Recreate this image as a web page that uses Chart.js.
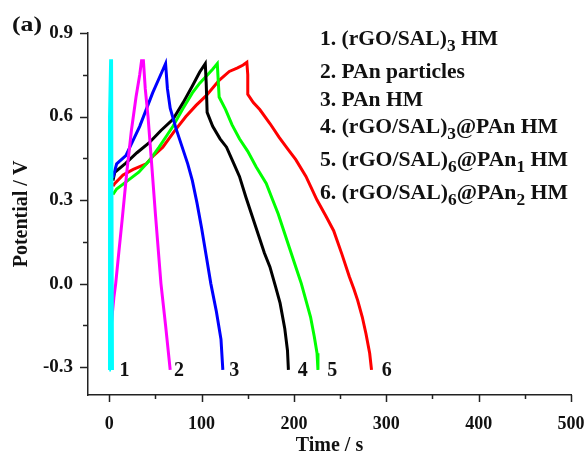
<!DOCTYPE html>
<html>
<head>
<meta charset="utf-8">
<script src="https://cdn.jsdelivr.net/npm/chart.js@4.4.1/dist/chart.umd.min.js"></script>
<style>
  html, body { margin: 0; padding: 0; background: #fff; }
</style>
</head>
<body>
<canvas id="gcd" width="586" height="460"></canvas>
<script>
// charge/discharge curves, time (s) and potential (V)
const t1 = [0, 0.3, 1.5, 2.5, 3.5];
const v1 = [-0.31, 0.6, 0.8, 0.8, -0.31];

const t2 = [1, 1, 3, 5, 7, 10, 14, 19, 24, 29, 33, 35, 37, 39, 42, 45, 50, 56, 61, 66];
const v2 = [-0.31, -0.2, -0.12, -0.05, 0.0, 0.1, 0.23, 0.4, 0.55, 0.67, 0.75, 0.8, 0.8, 0.7, 0.6, 0.47, 0.25, 0.0, -0.15, -0.31];

const t3 = [4, 8, 18, 33, 47, 57, 61, 63, 66, 72, 78, 85, 90, 95, 100, 105, 110, 116, 121, 123];
const v3 = [0.38, 0.43, 0.46, 0.565, 0.685, 0.76, 0.79, 0.7, 0.63, 0.56, 0.5, 0.43, 0.37, 0.29, 0.2, 0.1, 0.0, -0.1, -0.2, -0.31];

const t4 = [4, 6, 18, 30, 43, 56, 69, 80, 90, 98, 104, 105, 106, 112, 120, 127, 135, 141, 148, 155, 162, 168, 174, 180, 185, 190, 193, 194];
const v4 = [0.37, 0.4, 0.433, 0.47, 0.505, 0.55, 0.59, 0.65, 0.71, 0.76, 0.79, 0.72, 0.615, 0.565, 0.52, 0.49, 0.43, 0.385, 0.31, 0.24, 0.17, 0.11, 0.06, -0.01, -0.07, -0.16, -0.24, -0.31];

const t5 = [4, 8, 20, 32, 43, 54, 62, 69, 80, 90, 98, 105, 112, 117, 118, 119, 126, 133, 141, 150, 159, 170, 177, 183, 188, 195, 202, 208, 213, 218, 222, 225, 226];
const v5 = [0.32, 0.34, 0.37, 0.4, 0.44, 0.49, 0.53, 0.565, 0.63, 0.685, 0.72, 0.745, 0.77, 0.79, 0.73, 0.67, 0.625, 0.57, 0.52, 0.475, 0.42, 0.36, 0.3, 0.25, 0.2, 0.13, 0.06, 0.0, -0.06, -0.12, -0.19, -0.25, -0.31];

const t6 = [4, 6, 15, 26, 33, 40, 48, 58, 70, 83, 94, 105, 119, 130, 139, 145, 149, 150, 150, 156, 163, 174, 184, 194, 202, 213, 225, 235, 243, 252, 260, 265, 269, 274, 278, 282, 284];
const v6 = [0.35, 0.36, 0.39, 0.41, 0.42, 0.43, 0.46, 0.49, 0.545, 0.6, 0.64, 0.675, 0.73, 0.762, 0.775, 0.785, 0.795, 0.75, 0.68, 0.65, 0.625, 0.575, 0.525, 0.48, 0.445, 0.385, 0.3, 0.24, 0.19, 0.105, 0.025, -0.02, -0.06, -0.12, -0.18, -0.25, -0.31];

const times = [t1, t2, t3, t4, t5, t6];
const pots = [v1, v2, v3, v4, v5, v6];
const seriesColors = ['#00ffff', '#ff00ff', '#0000ff', '#000000', '#00ff00', '#ff0000'];
const curveNums = ['1', '2', '3', '4', '5', '6'];
const numX = [11, 70, 130, 204, 236, 295];   // where the curve numbers sit (s)
const numY = -0.3;

// legend lines: [text, isSubscript]
const legendLines = [
  [['1. (rGO/SAL)', 0], ['3', 1], [' HM', 0]],
  [['2. PAn particles', 0]],
  [['3. PAn HM', 0]],
  [['4. (rGO/SAL)', 0], ['3', 1], ['@PAn HM', 0]],
  [['5. (rGO/SAL)', 0], ['6', 1], ['@PAn', 0], ['1', 1], [' HM', 0]],
  [['6. (rGO/SAL)', 0], ['6', 1], ['@PAn', 0], ['2', 1], [' HM', 0]]
];

const xTicks = [0, 50, 100, 150, 200, 250, 300, 350, 400, 450, 500];
const yTicks = [-0.3, -0.15, 0, 0.15, 0.3, 0.45, 0.6, 0.75, 0.9];

const SERIF = "'Liberation Serif', 'Times New Roman', serif";

function isMajorX(v) { return v % 100 === 0; }
function isMajorY(v) { return Math.abs(v / 0.3 - Math.round(v / 0.3)) < 1e-6; }

// draws text parts stretched to a given width (the original type is wide)
function drawStretched(c, parts, x, y, width, size) {
  let natural = 0;
  parts.forEach(([txt, sub]) => {
    c.font = 'bold ' + (sub ? size - 4 : size) + 'px ' + SERIF;
    natural += c.measureText(txt).width;
  });
  const k = width / natural;
  c.save();
  c.translate(x, y);
  c.scale(k, 1);
  let cx = 0;
  parts.forEach(([txt, sub]) => {
    c.font = 'bold ' + (sub ? size - 4 : size) + 'px ' + SERIF;
    c.fillText(txt, cx, sub ? 6 : 0);
    cx += c.measureText(txt).width;
  });
  c.restore();
}

const extras = {
  id: 'extras',
  afterDraw(chart) {
    const c = chart.ctx;
    const xs = chart.scales.x, ys = chart.scales.y;
    const area = chart.chartArea;
    c.save();
    // tick marks, pointing out
    c.strokeStyle = '#222';
    c.lineWidth = 1.5;
    xTicks.forEach(v => {
      const px = Math.round(xs.getPixelForValue(v)) + 0.5;
      const len = isMajorX(v) ? 7 : 4;
      c.beginPath(); c.moveTo(px, area.bottom); c.lineTo(px, area.bottom + len); c.stroke();
    });
    yTicks.forEach(v => {
      const py = Math.round(ys.getPixelForValue(v)) + 0.5;
      const len = isMajorY(v) ? 8 : 5;
      c.beginPath(); c.moveTo(area.left, py); c.lineTo(area.left - len, py); c.stroke();
    });

    // curve numbers
    c.fillStyle = '#111';
    c.font = 'bold 20px ' + SERIF;
    c.textAlign = 'left';
    c.textBaseline = 'alphabetic';
    curveNums.forEach((n, i) => {
      c.fillText(n, xs.getPixelForValue(numX[i]), ys.getPixelForValue(numY) + 9);
    });

    // legend text
    const base = [45, 78, 106, 133, 166, 199];
    const right = [498, 465, 423, 558, 568, 568];
    legendLines.forEach((parts, i) => {
      drawStretched(c, parts, 320, base[i], right[i] - 320, 20);
    });

    // panel letter
    drawStretched(c, [['(a)', 0]], 12, 31, 30, 22);
    c.restore();
  }
};

const ctx = document.getElementById('gcd').getContext('2d');
new Chart(ctx, {
  type: 'line',
  data: {
    datasets: times.map((t, i) => ({
      label: curveNums[i],
      data: t.map((x, j) => ({ x: x, y: pots[i][j] })),
      borderColor: seriesColors[i],
      borderWidth: 3,
      pointRadius: 0,
      fill: false,
      tension: 0
    }))
  },
  options: {
    responsive: false,
    animation: false,
    devicePixelRatio: 1,
    layout: { padding: { top: 33, right: 15, left: 0, bottom: 0 } },
    plugins: { legend: { display: false }, tooltip: { enabled: false } },
    scales: {
      x: {
        type: 'linear',
        min: -23,
        max: 500,
        afterBuildTicks: s => { s.ticks = xTicks.map(v => ({ value: v })); },
        afterFit: s => { s.height = 65; s.paddingLeft = 0; s.paddingRight = 0; },
        grid: { display: false, drawTicks: false },
        border: { display: true, color: '#222', width: 1.5 },
        ticks: {
          autoSkip: false, maxRotation: 0, padding: 19, color: '#111',
          font: { family: SERIF, size: 18, weight: 'bold' },
          callback: v => isMajorX(v) ? String(v) : ''
        },
        title: {
          display: true, text: 'Time / s', color: '#111',
          font: { family: SERIF, size: 20, weight: 'bold' },
          padding: { top: 0, bottom: 2 }
        }
      },
      y: {
        type: 'linear',
        min: -0.4,
        max: 0.9,
        afterBuildTicks: s => { s.ticks = yTicks.map(v => ({ value: v })); },
        afterFit: s => { s.width = 88; s.paddingTop = 0; s.paddingBottom = 0; },
        grid: { display: false, drawTicks: false },
        border: { display: true, color: '#222', width: 1.5 },
        ticks: {
          autoSkip: false, padding: 15, color: '#111',
          font: { family: SERIF, size: 19, weight: 'bold' },
          callback: v => isMajorY(v) ? v.toFixed(1) : ''
        },
        title: {
          display: true, text: 'Potential / V', color: '#111',
          font: { family: SERIF, size: 20, weight: 'bold' },
          padding: { top: 10, bottom: 0 }
        }
      }
    }
  },
  plugins: [extras]
});
</script>
</body>
</html>
